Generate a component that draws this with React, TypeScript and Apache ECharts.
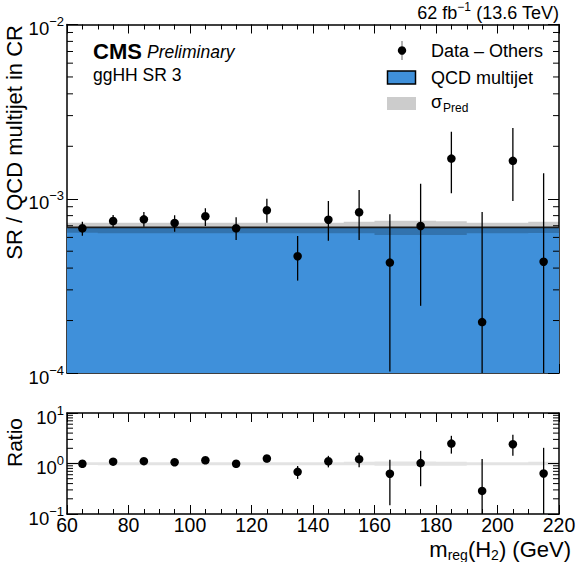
import React, { useEffect, useRef } from "react";
import * as echarts from "echarts";

// ---- data ----
const BIN_CENTERS = [65, 75, 85, 95, 105, 115, 125, 135, 145, 155, 165, 175, 185, 195, 205, 215];
const BIN_WIDTH = 10;
const DATA = [6.77e-4, 7.45e-4, 7.62e-4, 7.26e-4, 7.93e-4, 6.77e-4, 8.59e-4, 4.68e-4, 7.58e-4, 8.36e-4, 4.3e-4, 6.98e-4, 1.7e-3, 1.96e-4, 1.65e-3, 4.35e-4];
const DATA_HI = [7.38e-4, 8.06e-4, 8.39e-4, 8.04e-4, 8.81e-4, 7.82e-4, 1.0e-3, 6.11e-4, 9.71e-4, 1.122e-3, 8.14e-4, 1.22e-3, 2.42e-3, 8.39e-4, 2.55e-3, 1.4e-3];
const DATA_LO = [6.14e-4, 6.86e-4, 6.91e-4, 6.47e-4, 6.98e-4, 5.8e-4, 7.29e-4, 3.39e-4, 5.74e-4, 5.8e-4, 1.02e-4, 2.43e-4, 1.075e-3, 0, 9.71e-4, 0];
const QCD = [6.85e-4, 6.85e-4, 6.85e-4, 6.85e-4, 6.85e-4, 6.85e-4, 6.85e-4, 6.85e-4, 6.85e-4, 6.85e-4, 6.85e-4, 6.85e-4, 6.85e-4, 6.85e-4, 6.85e-4, 6.85e-4];
const BAND_HI = [7.29e-4, 7.29e-4, 7.29e-4, 7.29e-4, 7.29e-4, 7.29e-4, 7.29e-4, 7.29e-4, 7.29e-4, 7.38e-4, 7.48e-4, 7.48e-4, 7.42e-4, 7.29e-4, 7.29e-4, 7.38e-4];
const BAND_LO = [6.39e-4, 6.34e-4, 6.34e-4, 6.34e-4, 6.34e-4, 6.34e-4, 6.34e-4, 6.34e-4, 6.34e-4, 6.34e-4, 6.19e-4, 6.19e-4, 6.19e-4, 6.34e-4, 6.34e-4, 6.36e-4];

const X_MIN = 60;
const X_MAX = 220;
const X_INTERVAL = 20;
const TOP_Y_MIN = 1e-4;
const TOP_Y_MAX = 1e-2;
const RATIO_Y_MIN = 0.1;
const RATIO_Y_MAX = 10;
const MINOR_MULTS = [2, 3, 4, 5, 6, 7, 8, 9];
const TOP_DECADES = [1e-4, 1e-3];
const RATIO_DECADES = [0.1, 1];

const RATIO = DATA.map((d, i) => d / QCD[i]);
const RATIO_HI = DATA_HI.map((d, i) => d / QCD[i]);
const RATIO_LO = DATA_LO.map((d, i) => d / QCD[i]);
const RATIO_BAND_HI = BAND_HI.map((d, i) => d / QCD[i]);
const RATIO_BAND_LO = BAND_LO.map((d, i) => d / QCD[i]);

const FONT = "'Liberation Sans', Arial, Helvetica, sans-serif";
const BLUE = "#3f90da";

function stepPts(api: any, vals: number[]) {
  const pts: number[][] = [];
  for (let i = 0; i < BIN_CENTERS.length; i++) {
    const x0 = BIN_CENTERS[i] - BIN_WIDTH / 2;
    const x1 = BIN_CENTERS[i] + BIN_WIDTH / 2;
    pts.push(api.coord([x0, vals[i]]));
    pts.push(api.coord([x1, vals[i]]));
  }
  return pts;
}

function expLabel(v: number) {
  const e = Math.round(Math.log10(v));
  const s = e < 0 ? "\u2212" + -e : String(e);
  return `{b|10}{s|${s}}`;
}

const yRich = {
  b: { fontSize: 18.5, fontFamily: FONT, color: "#000", lineHeight: 19, padding: [4, 0, 0, 0], verticalAlign: "top" },
  s: { fontSize: 13, fontFamily: FONT, color: "#000", lineHeight: 13, verticalAlign: "top" },
};

function xAxisCfg(gridIndex: number, position: string, labels: boolean) {
  return {
    type: "value",
    gridIndex,
    position,
    min: X_MIN,
    max: X_MAX,
    interval: X_INTERVAL,
    axisLine: { show: true, onZero: false, lineStyle: { color: "#000", width: 1.5 } },
    axisTick: { show: true, inside: true, length: 9, lineStyle: { color: "#000", width: 1 } },
    minorTick: { show: true, splitNumber: 4, length: 5, lineStyle: { color: "#000", width: 1 } },
    splitLine: { show: false },
    axisLabel: labels
      ? { show: true, fontSize: 19.5, fontFamily: FONT, color: "#000", margin: 2, lineHeight: 17 }
      : { show: false },
  };
}

function yAxisCfg(gridIndex: number, position: string, min: number, max: number, labels: boolean) {
  return {
    type: "log",
    logBase: 10,
    gridIndex,
    position,
    min,
    max,
    axisLine: { show: true, onZero: false, lineStyle: { color: "#000", width: 1.5 } },
    axisTick: { show: true, inside: true, length: 11, lineStyle: { color: "#000", width: 1 } },
    splitLine: { show: false },
    axisLabel: labels
      ? { show: true, margin: 3, formatter: expLabel, rich: yRich }
      : { show: false },
  };
}

function minorTickSeries(xIdx: number, yIdx: number, decades: number[]) {
  const vals: number[][] = [];
  decades.forEach((d) => MINOR_MULTS.forEach((m) => vals.push([X_MIN, m * d])));
  return {
    type: "custom",
    xAxisIndex: xIdx,
    yAxisIndex: yIdx,
    data: vals,
    silent: true,
    z: 5,
    renderItem: (params: any, api: any) => {
      const v = api.value(1);
      const p = api.coord([X_MIN, v]);
      const q = api.coord([X_MAX, v]);
      return {
        type: "group",
        children: [
          { type: "line", shape: { x1: p[0], y1: p[1], x2: p[0] + 6, y2: p[1] }, style: { stroke: "#000", lineWidth: 1 } },
          { type: "line", shape: { x1: q[0], y1: q[1], x2: q[0] - 6, y2: q[1] }, style: { stroke: "#000", lineWidth: 1 } },
        ],
      };
    },
  };
}

function errorBarSeries(xIdx: number, yIdx: number, center: number[], hi: number[], lo: number[], yMin: number) {
  return {
    type: "custom",
    xAxisIndex: xIdx,
    yAxisIndex: yIdx,
    clip: true,
    silent: true,
    z: 3,
    data: center.map((c, i) => [BIN_CENTERS[i], c, hi[i], lo[i]]),
    renderItem: (params: any, api: any) => {
      const x = api.value(0);
      const h = api.value(2);
      const l = Math.max(api.value(3), yMin);
      const p = api.coord([x, h]);
      const q = api.coord([x, l]);
      return {
        type: "line",
        shape: { x1: p[0], y1: p[1], x2: q[0], y2: q[1] },
        style: { stroke: "#000", lineWidth: 1.3 },
      };
    },
  };
}

function pointSeries(xIdx: number, yIdx: number, vals: number[]) {
  return {
    type: "scatter",
    xAxisIndex: xIdx,
    yAxisIndex: yIdx,
    symbol: "circle",
    symbolSize: 8.5,
    itemStyle: { color: "#000", opacity: 1 },
    silent: true,
    z: 4,
    data: vals.map((d, i) => [BIN_CENTERS[i], d]),
  };
}

export default function App() {
  const ref = useRef<HTMLDivElement>(null);

  useEffect(() => {
    if (!ref.current) return;
    const chart = echarts.init(ref.current, null, { renderer: "svg" });

    const option: any = {
      animation: false,
      backgroundColor: "#fff",
      grid: [
        { left: 67, top: 24.5, width: 492, height: 348.5 },
        { left: 67, top: 413, width: 492, height: 101 },
      ],
      xAxis: [
        xAxisCfg(0, "bottom", false),
        xAxisCfg(0, "top", false),
        xAxisCfg(1, "bottom", true),
        xAxisCfg(1, "top", false),
      ],
      yAxis: [
        yAxisCfg(0, "left", TOP_Y_MIN, TOP_Y_MAX, true),
        yAxisCfg(0, "right", TOP_Y_MIN, TOP_Y_MAX, false),
        yAxisCfg(1, "left", RATIO_Y_MIN, RATIO_Y_MAX, true),
        yAxisCfg(1, "right", RATIO_Y_MIN, RATIO_Y_MAX, false),
      ],
      series: [
        // QCD histogram, band and line
        {
          type: "custom",
          xAxisIndex: 0,
          yAxisIndex: 0,
          silent: true,
          z: 1,
          data: [[X_MIN, TOP_Y_MIN]],
          renderItem: (params: any, api: any) => {
            const top = stepPts(api, QCD);
            const blue = top.concat([api.coord([X_MAX, TOP_Y_MIN]), api.coord([X_MIN, TOP_Y_MIN])]);
            const band = stepPts(api, BAND_HI).concat(stepPts(api, BAND_LO).reverse());
            return {
              type: "group",
              children: [
                { type: "polygon", shape: { points: blue }, style: { fill: BLUE } },
                { type: "polygon", shape: { points: band }, style: { fill: "rgba(0,0,0,0.2)" } },
                { type: "polyline", shape: { points: top }, style: { stroke: "#1b1b1b", lineWidth: 1.6, fill: "none" } },
              ],
            };
          },
        },
        errorBarSeries(0, 0, DATA, DATA_HI, DATA_LO, TOP_Y_MIN),
        pointSeries(0, 0, DATA),
        minorTickSeries(0, 0, TOP_DECADES),
        // Ratio band
        {
          type: "custom",
          xAxisIndex: 2,
          yAxisIndex: 2,
          silent: true,
          z: 1,
          data: [[X_MIN, 1]],
          renderItem: (params: any, api: any) => {
            const band = stepPts(api, RATIO_BAND_HI).concat(stepPts(api, RATIO_BAND_LO).reverse());
            return { type: "polygon", shape: { points: band }, style: { fill: "rgba(0,0,0,0.11)" } };
          },
        },
        errorBarSeries(2, 2, RATIO, RATIO_HI, RATIO_LO, RATIO_Y_MIN),
        pointSeries(2, 2, RATIO),
        minorTickSeries(2, 2, RATIO_DECADES),
      ],
      graphic: [
        // y axis titles
        {
          type: "text",
          x: 14,
          y: 25,
          rotation: Math.PI / 2,
          style: { text: "SR / QCD multijet in CR", font: `22px ${FONT}`, fill: "#000", align: "right", verticalAlign: "middle" },
        },
        {
          type: "text",
          x: 14,
          y: 418,
          rotation: Math.PI / 2,
          style: { text: "Ratio", font: `21px ${FONT}`, fill: "#000", align: "right", verticalAlign: "middle" },
        },
        // x axis title
        {
          type: "text",
          x: 571,
          y: 538,
          style: {
            text: "{m|m}{s|reg}{m|(H}{s|2}{m|) (GeV)}",
            align: "right",
            verticalAlign: "top",
            rich: {
              m: { fontSize: 22, fontFamily: FONT, fill: "#000", lineHeight: 21, verticalAlign: "top" },
              s: { fontSize: 14, fontFamily: FONT, fill: "#000", lineHeight: 12, padding: [10, 0, 0, 0], verticalAlign: "top" },
            },
          },
        },
        // lumi
        {
          type: "text",
          x: 559,
          y: 1,
          style: {
            text: "{m|62 fb}{s|\u22121}{m| (13.6 TeV)}",
            align: "right",
            verticalAlign: "top",
            rich: {
              m: { fontSize: 18, fontFamily: FONT, fill: "#000", lineHeight: 19, padding: [3, 0, 0, 0], verticalAlign: "top" },
              s: { fontSize: 12, fontFamily: FONT, fill: "#000", lineHeight: 12, verticalAlign: "top" },
            },
          },
        },
        // CMS Preliminary
        {
          type: "text",
          x: 93,
          y: 51,
          style: { text: "CMS", font: `bold 22px ${FONT}`, fill: "#000", align: "left", verticalAlign: "middle" },
        },
        {
          type: "text",
          x: 147,
          y: 52,
          style: { text: "Preliminary", font: `italic 17.5px ${FONT}`, fill: "#000", align: "left", verticalAlign: "middle" },
        },
        {
          type: "text",
          x: 93,
          y: 75,
          style: { text: "ggHH SR 3", font: `17.5px ${FONT}`, fill: "#000", align: "left", verticalAlign: "middle" },
        },
        // legend
        { type: "line", shape: { x1: 402, y1: 41, x2: 402, y2: 60 }, style: { stroke: "#666", lineWidth: 1 } },
        { type: "circle", shape: { cx: 402, cy: 50.5, r: 4.2 }, style: { fill: "#000" } },
        {
          type: "text",
          x: 431,
          y: 51,
          style: { text: "Data \u2013 Others", font: `18px ${FONT}`, fill: "#000", align: "left", verticalAlign: "middle" },
        },
        { type: "rect", shape: { x: 387.5, y: 71, width: 28, height: 13 }, style: { fill: BLUE, stroke: "#000", lineWidth: 1.5 } },
        {
          type: "text",
          x: 431,
          y: 77.5,
          style: { text: "QCD multijet", font: `18px ${FONT}`, fill: "#000", align: "left", verticalAlign: "middle" },
        },
        { type: "rect", shape: { x: 387, y: 97, width: 29, height: 13 }, style: { fill: "#cccccc" } },
        {
          type: "text",
          x: 431,
          y: 93,
          style: {
            text: "{m|\u03c3}{s|Pred}",
            align: "left",
            verticalAlign: "top",
            rich: {
              m: { fontSize: 18, fontFamily: FONT, fill: "#000", lineHeight: 20, verticalAlign: "top" },
              s: { fontSize: 12, fontFamily: FONT, fill: "#000", lineHeight: 12, padding: [9, 0, 0, 1], verticalAlign: "top" },
            },
          },
        },
      ],
    };

    chart.setOption(option);
    return () => chart.dispose();
  }, []);

  return <div ref={ref} style={{ position: "absolute", left: 0, top: 0, width: 580, height: 562 }} />;
}
